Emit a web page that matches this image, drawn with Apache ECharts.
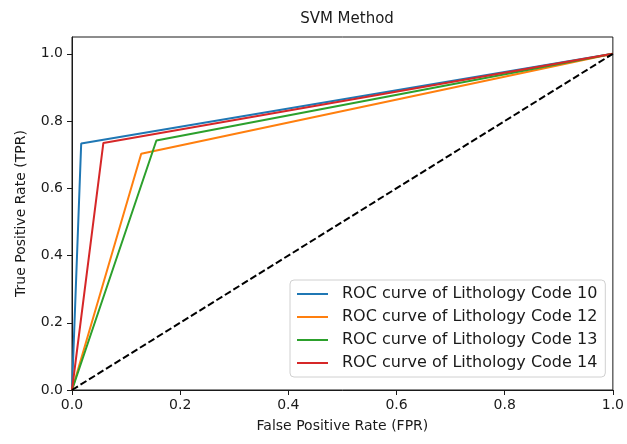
<!DOCTYPE html>
<html>
<head>
<meta charset="utf-8">
<script src="https://cdn.jsdelivr.net/npm/echarts@6/dist/echarts.min.js"></script>
<style>
  html, body { margin: 0; padding: 0; background: #fff; }
  #chart { width: 627px; height: 444px; }
</style>
</head>
<body>
<div id="chart"></div>
<script>
// ROC curves of the SVM classifier, one per lithology code
const classNames = ['ROC curve of Lithology Code 10', 'ROC curve of Lithology Code 12',
                    'ROC curve of Lithology Code 13', 'ROC curve of Lithology Code 14'];
const fpr10 = [0, 0.017, 1];
const tpr10 = [0, 0.733, 1];
const fpr12 = [0, 0.128, 1];
const tpr12 = [0, 0.703, 1];
const fpr13 = [0, 0.156, 1];
const tpr13 = [0, 0.742, 1];
const fpr14 = [0, 0.058, 1];
const tpr14 = [0, 0.735, 1];
const chanceX = [0, 1];
const chanceY = [0, 1];
const xTicks = [0, 0.2, 0.4, 0.6, 0.8, 1.0];
const yTicks = [0, 0.2, 0.4, 0.6, 0.8, 1.0];

const colors = ['#1f77b4', '#ff7f0e', '#2ca02c', '#d62728'];
const curves = [[fpr10, tpr10], [fpr12, tpr12], [fpr13, tpr13], [fpr14, tpr14]];

const pairs = (xs, ys) => xs.map((x, i) => [x, ys[i]]);
const font = 'DejaVu Sans';
const ink = '#1a1a1a';

const series = curves.map((c, i) => ({
  name: classNames[i],
  type: 'line',
  data: pairs(c[0], c[1]),
  showSymbol: false,
  symbol: 'none',
  lineStyle: { color: colors[i], width: 2 },
  itemStyle: { color: colors[i] },
  animation: false,
  z: 2 + i
}));
series.push({
  name: 'chance',
  type: 'line',
  data: pairs(chanceX, chanceY),
  showSymbol: false,
  symbol: 'none',
  lineStyle: { color: '#000', width: 2, type: [7, 3] },
  animation: false,
  z: 10
});

const chart = echarts.init(document.getElementById('chart'), null, { renderer: 'canvas' });
chart.setOption({
  animation: false,
  backgroundColor: '#fff',
  title: {
    text: 'SVM Method',
    left: 342,
    top: 7,
    textAlign: 'center',
    textStyle: { fontFamily: font, fontSize: 15, fontWeight: 'normal', color: ink }
  },
  grid: {
    left: 72, right: 14, top: 37, bottom: 54,
    show: true, borderColor: ink, borderWidth: 1, backgroundColor: 'transparent'
  },
  legend: {
    data: classNames,
    orient: 'vertical',
    left: 290,
    top: 280,
    icon: 'rect',
    itemWidth: 31,
    itemHeight: 2,
    itemGap: 7,
    padding: [6, 8, 6, 7],
    borderColor: '#d0d0d0',
    borderWidth: 1,
    borderRadius: 4,
    backgroundColor: 'rgba(255,255,255,0.85)',
    textStyle: { fontFamily: font, fontSize: 16, color: ink, lineHeight: 16, padding: [0, 0, 0, 9] }
  },
  xAxis: {
    type: 'value',
    min: 0, max: 1,
    interval: 0.2,
    name: 'False Positive Rate (FPR)',
    nameLocation: 'middle',
    nameGap: 29,
    nameTextStyle: { fontFamily: font, fontSize: 14, color: ink },
    axisLine: { show: true, onZero: false, lineStyle: { color: ink, width: 1 } },
    axisTick: { show: true, inside: false, length: 5, lineStyle: { color: ink }, customValues: xTicks },
    axisLabel: { fontFamily: font, fontSize: 14, color: ink, margin: 8, customValues: xTicks,
                 formatter: v => v.toFixed(1) },
    splitLine: { show: false }
  },
  yAxis: {
    type: 'value',
    min: 0, max: 1.05,
    name: 'True Positive Rate (TPR)',
    nameLocation: 'middle',
    nameGap: 44,
    nameTextStyle: { fontFamily: font, fontSize: 14, color: ink },
    axisLine: { show: true, onZero: false, lineStyle: { color: ink, width: 1 } },
    axisTick: { show: true, inside: false, length: 5, lineStyle: { color: ink }, customValues: yTicks },
    axisLabel: { fontFamily: font, fontSize: 14, color: ink, margin: 9, customValues: yTicks,
                 formatter: v => v.toFixed(1) },
    splitLine: { show: false }
  },
  series: series
});
</script>
</body>
</html>
